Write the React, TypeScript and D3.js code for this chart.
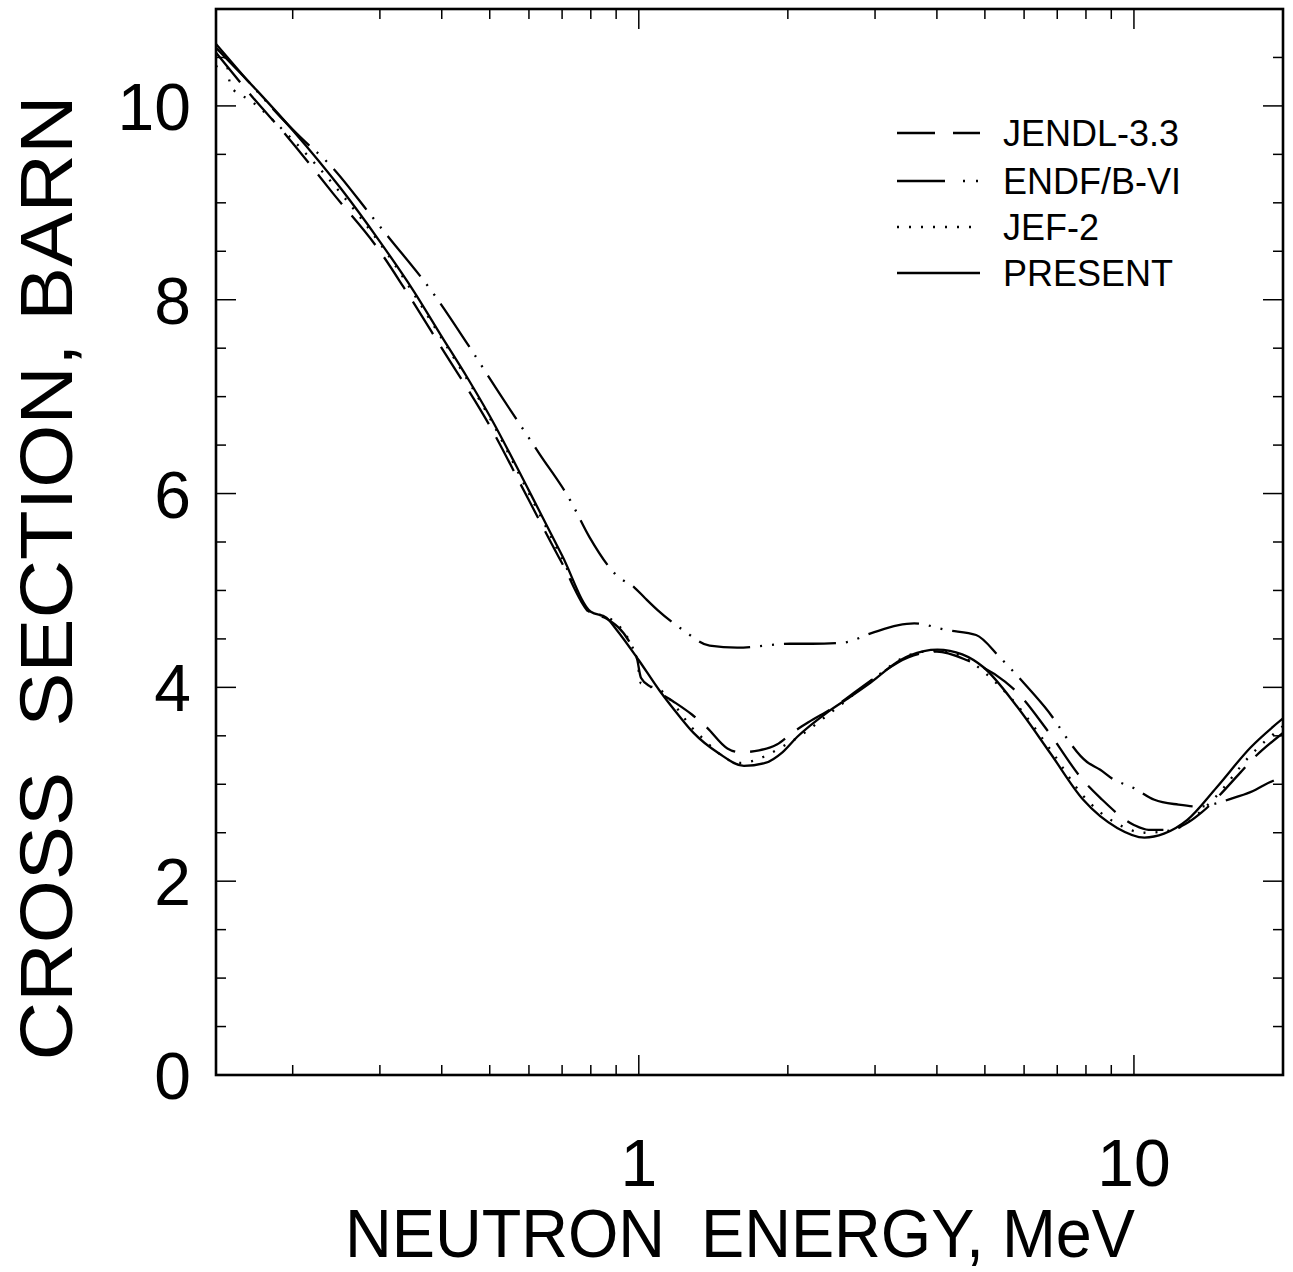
import React from 'react';
import * as d3 from 'd3';

// ---- data (energy in MeV, cross section in barn) ----
const presentE = [0.14, 0.17, 0.2, 0.25, 0.3, 0.35, 0.4, 0.45, 0.5, 0.6, 0.7, 0.8, 0.86, 0.9, 1.0, 1.1, 1.2, 1.29, 1.45, 1.63, 1.8, 1.95, 2.09, 2.4, 2.67, 2.94, 3.37, 3.53, 4.01, 4.5, 4.96, 5.81, 6.78, 7.9, 9.25, 10.5, 11.5, 12.8, 14.7, 17.2, 20];
const presentV = [10.6, 10.15, 9.75, 9.15, 8.6, 8.1, 7.62, 7.2, 6.8, 6.03, 5.36, 4.78, 4.72, 4.6, 4.28, 3.97, 3.72, 3.53, 3.32, 3.19, 3.22, 3.33, 3.49, 3.74, 3.9, 4.05, 4.28, 4.33, 4.39, 4.34, 4.21, 3.8, 3.32, 2.84, 2.55, 2.45, 2.49, 2.63, 2.97, 3.38, 3.68];

const jendlE = [0.14, 0.166, 0.196, 0.241, 0.3, 0.334, 0.4, 0.5, 0.6, 0.7, 0.8, 0.86, 0.99, 1.01, 1.06, 1.17, 1.28, 1.37, 1.51, 1.6, 1.75, 1.9, 2.04, 2.2, 2.47, 2.96, 3.5, 4.0, 4.6, 5.49, 5.83, 6.7, 7.9, 8.55, 10.0, 10.7, 11.8, 12.9, 13.7, 16.4, 17.3, 20];
const jendlV = [10.55, 10.09, 9.67, 9.1, 8.5, 8.14, 7.5, 6.7, 5.93, 5.28, 4.76, 4.71, 4.31, 4.1, 4.0, 3.86, 3.72, 3.59, 3.37, 3.33, 3.35, 3.41, 3.53, 3.64, 3.79, 4.08, 4.31, 4.37, 4.28, 4.06, 3.94, 3.55, 3.04, 2.86, 2.58, 2.53, 2.53, 2.61, 2.71, 3.12, 3.25, 3.53];

const endfE = [0.14, 0.207, 0.238, 0.291, 0.313, 0.384, 0.45, 0.525, 0.63, 0.727, 0.795, 0.9, 0.98, 1.03, 1.09, 1.23, 1.39, 1.58, 2.02, 2.24, 2.58, 2.95, 3.33, 3.6, 4.2, 4.8, 5.36, 5.98, 6.6, 8.04, 8.55, 9.03, 10.0, 11.0, 12.3, 13.5, 14.6, 15.9, 17.4, 18.3, 20];
const endfV = [10.64, 9.68, 9.39, 8.84, 8.64, 8.07, 7.55, 7.02, 6.41, 5.93, 5.55, 5.16, 5.03, 4.92, 4.8, 4.59, 4.43, 4.41, 4.45, 4.45, 4.46, 4.56, 4.64, 4.66, 4.59, 4.54, 4.31, 4.05, 3.8, 3.23, 3.15, 3.06, 2.96, 2.84, 2.79, 2.77, 2.8, 2.86, 2.93, 2.99, 3.08];

const jefE = [0.14, 0.146, 0.15, 0.165, 0.2, 0.25, 0.3, 0.4, 0.5, 0.6, 0.7, 0.8, 0.86, 0.99, 1.01, 1.1, 1.3, 1.6, 2.0, 2.5, 3.0, 3.5, 4.0, 4.5, 5.0, 5.8, 6.8, 7.9, 9.2, 10.5, 12.0, 13.5, 14.5, 17.2, 20];
const jefV = [10.4, 10.5, 10.2, 10.05, 9.65, 9.1, 8.58, 7.6, 6.78, 6.0, 5.33, 4.77, 4.73, 4.31, 4.04, 3.98, 3.55, 3.22, 3.42, 3.78, 4.1, 4.33, 4.38, 4.32, 4.15, 3.82, 3.35, 2.88, 2.6, 2.5, 2.53, 2.7, 2.85, 3.3, 3.6];

const seriesNames = ['JENDL-3.3', 'ENDF/B-VI', 'JEF-2', 'PRESENT'];

const xMajorTicks = [1, 10];
const xMinorTicks = [0.2, 0.3, 0.4, 0.5, 0.6, 0.7, 0.8, 0.9, 2, 3, 4, 5, 6, 7, 8, 9, 20];
const yMajorTicks = [0, 2, 4, 6, 8, 10];
const yMinorTicks = [0.5, 1, 1.5, 2.5, 3, 3.5, 4.5, 5, 5.5, 6.5, 7, 7.5, 8.5, 9, 9.5, 10.5];

const FONT = '"Liberation Sans", Arial, Helvetica, sans-serif';

export default function App() {
  const W = 1293, H = 1272;
  const L = 216, R = 1283, T = 9, B = 1075;
  const x = d3.scaleLog().domain([0.14, 20]).range([L, R]);
  const y = d3.scaleLinear().domain([0, 11]).range([B, T]);

  const line = d3.line<[number, number]>()
    .x(d => x(d[0]))
    .y(d => y(d[1]))
    .curve(d3.curveMonotoneX);

  const mk = (E: number[], V: number[]) => E.map((e, i) => [e, V[i]] as [number, number]);

  const series = [
    { name: seriesNames[0], data: mk(jendlE, jendlV), dash: '38,15', legDash: '38,18' },
    { name: seriesNames[1], data: mk(endfE, endfV), dash: '52,10,2,10,2,10', legDash: '48,18,2,11,2,11' },
    { name: seriesNames[2], data: mk(jefE, jefV), dash: '2,10', legDash: '2,10' },
    { name: seriesNames[3], data: mk(presentE, presentV), dash: 'none', legDash: 'none' },
  ];

  const legLineY = [133, 181, 227, 273];

  return (
    <svg width={W} height={H} style={{ position: 'absolute', left: 0, top: 0, background: '#fff' }}>
      <rect x={0} y={0} width={W} height={H} fill="#fff" />
      <defs>
        <clipPath id="plot">
          <rect x={L} y={T} width={R - L} height={B - T} />
        </clipPath>
      </defs>

      {/* curves */}
      <g clipPath="url(#plot)" fill="none" stroke="#000" strokeWidth={2.3}>
        {series.map(s => (
          <path key={s.name} d={line(s.data) || ''} strokeDasharray={s.dash === 'none' ? undefined : s.dash} strokeLinecap="butt" />
        ))}
      </g>

      {/* ticks */}
      <g stroke="#000" strokeWidth={1.5}>
        {xMajorTicks.map(t => (
          <g key={'xM' + t}>
            <line x1={x(t)} x2={x(t)} y1={B} y2={B - 20} />
            <line x1={x(t)} x2={x(t)} y1={T} y2={T + 20} />
          </g>
        ))}
        {xMinorTicks.map(t => (
          <g key={'xm' + t}>
            <line x1={x(t)} x2={x(t)} y1={B} y2={B - 10} />
            <line x1={x(t)} x2={x(t)} y1={T} y2={T + 10} />
          </g>
        ))}
        {yMajorTicks.map(t => (
          <g key={'yM' + t}>
            <line x1={L} x2={L + 20} y1={y(t)} y2={y(t)} />
            <line x1={R} x2={R - 20} y1={y(t)} y2={y(t)} />
          </g>
        ))}
        {yMinorTicks.map(t => (
          <g key={'ym' + t}>
            <line x1={L} x2={L + 10} y1={y(t)} y2={y(t)} />
            <line x1={R} x2={R - 10} y1={y(t)} y2={y(t)} />
          </g>
        ))}
      </g>

      {/* frame */}
      <rect x={L} y={T} width={R - L} height={B - T} fill="none" stroke="#000" strokeWidth={2.6} />

      {/* tick labels */}
      <g fontFamily={FONT} fontSize={66} fill="#000">
        {xMajorTicks.map(t => (
          <text key={'xl' + t} x={x(t)} y={1186} textAnchor="middle">{String(t)}</text>
        ))}
        {yMajorTicks.map(t => (
          <text key={'yl' + t} x={191} y={y(t) + 24} textAnchor="end">{String(t)}</text>
        ))}
      </g>

      {/* axis titles */}
      <text x={740} y={1257} fontFamily={FONT} fontSize={69} textAnchor="middle"
        textLength={790} lengthAdjust="spacingAndGlyphs" xmlSpace="preserve">NEUTRON  ENERGY, MeV</text>
      <text transform="translate(72,578) rotate(-90)" fontFamily={FONT} fontSize={75} textAnchor="middle"
        textLength={965} lengthAdjust="spacingAndGlyphs" xmlSpace="preserve">CROSS  SECTION, BARN</text>

      {/* legend */}
      <g fontFamily={FONT} fontSize={36} fill="#000">
        {series.map((s, i) => (
          <g key={'lg' + s.name}>
            <line x1={897} x2={980} y1={legLineY[i]} y2={legLineY[i]} stroke="#000" strokeWidth={2.3}
              strokeDasharray={s.legDash === 'none' ? undefined : s.legDash} />
            <text x={1003} y={legLineY[i] + 13}>{s.name}</text>
          </g>
        ))}
      </g>
    </svg>
  );
}
